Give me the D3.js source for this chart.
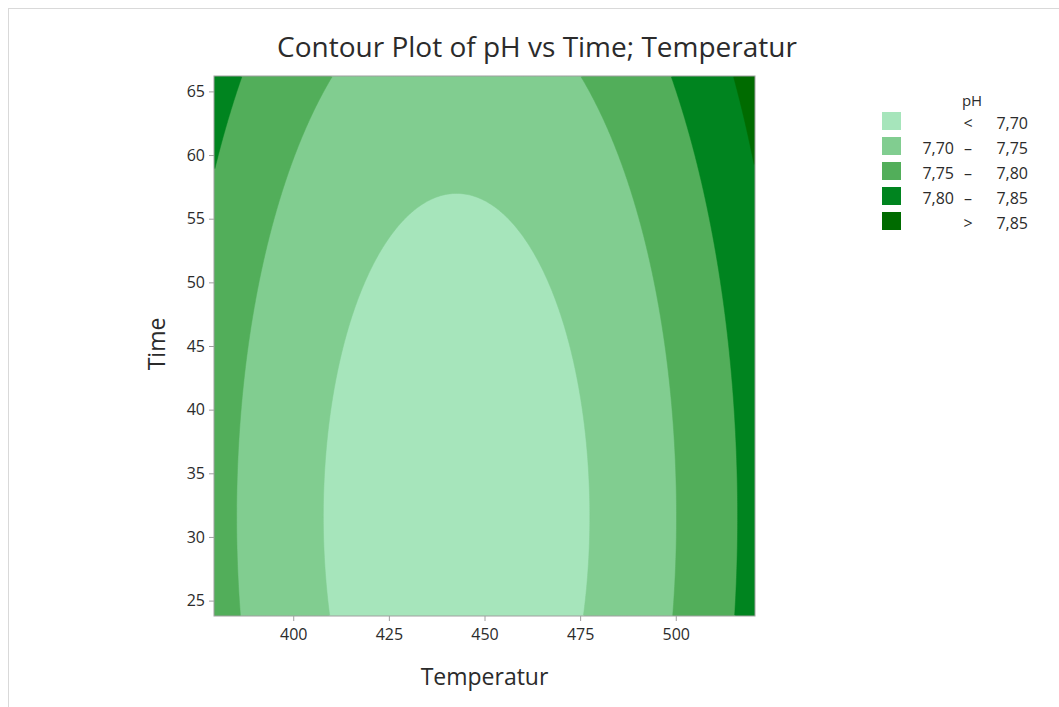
<!DOCTYPE html>
<html>
<head>
<meta charset="utf-8">
<script src="https://cdn.jsdelivr.net/npm/d3@7"></script>
<style>
  body { margin: 0; background: #fff; }
  svg text { font-family: "Open Sans", "Noto Sans", sans-serif; fill: #2b2b2b; }
</style>
</head>
<body>
<div id="chart"></div>
<script>
// fitted response surface (uncoded units)
const terms = ["Constant", "Temperatur", "Time", "Temperatur*Temperatur", "Time*Time", "Temperatur*Time"];
const coefs = [12.399936, -0.02116106, -0.002844, 0.0000239, 0.000045, 0];

const tempRange = [379.29, 520.71];
const timeRange = [23.79, 66.21];
const tempTicks = [400, 425, 450, 475, 500];
const timeTicks = [25, 30, 35, 40, 45, 50, 55, 60, 65];

const levels = [7.70, 7.75, 7.80, 7.85];
const legendLabels = [["", "<", "7,70"], ["7,70", "–", "7,75"], ["7,75", "–", "7,80"], ["7,80", "–", "7,85"], ["", ">", "7,85"]];
const colors = ["#a6e5bb", "#81cd90", "#52ae5a", "#00841f", "#006b00"];

function pH(T, t) {
    return coefs[0] + coefs[1] * T + coefs[2] * t + coefs[3] * T * T + coefs[4] * t * t + coefs[5] * T * t;
}

let width = 1059, height = 707;
let margin = { top: 76, left: 214, right: 304, bottom: 91 };
let plotW = width - margin.left - margin.right,
    plotH = height - margin.top - margin.bottom;

var svg = d3.select("#chart").append("svg")
    .attr("width", width)
    .attr("height", height);

// outer frame of the graph window
svg.append("rect")
    .attr("x", 8.5).attr("y", 8.5)
    .attr("width", width).attr("height", height)
    .attr("fill", "none")
    .attr("stroke", "#d9d9d9");

var x = d3.scaleLinear().domain(tempRange).range([0, plotW]);
var y = d3.scaleLinear().domain(timeRange).range([plotH, 0]);

var g = svg.append("g")
    .attr("transform", "translate(" + margin.left + "," + margin.top + ")");

g.append("clipPath").attr("id", "clip")
    .append("rect").attr("width", plotW).attr("height", plotH);

// grid of values for the contour generator
var nx = 300, ny = 300;
var dT = (tempRange[1] - tempRange[0]) / nx,
    dt = (timeRange[1] - timeRange[0]) / ny;
var values = new Array(nx * ny);
for (var j = 0; j < ny; j++) {
    for (var i = 0; i < nx; i++) {
        values[j * nx + i] = pH(tempRange[0] + (i + 0.5) * dT, timeRange[0] + (j + 0.5) * dt);
    }
}

var contours = d3.contours()
    .size([nx, ny])
    .smooth(true)
    .thresholds([-Infinity].concat(levels))(values);

var projection = d3.geoTransform({
    point: function(px, py) {
        this.stream.point(x(tempRange[0] + px * dT), y(timeRange[0] + py * dt));
    }
});
var path = d3.geoPath(projection);

g.append("g")
    .attr("clip-path", "url(#clip)")
    .selectAll("path")
    .data(contours)
    .enter()
    .append("path")
    .attr("d", (d, k) => k === 0 ? "M0,0H" + plotW + "V" + plotH + "H0Z" : path(d))
    .attr("fill", (d, k) => colors[k])
    .attr("stroke", (d, k) => colors[k])
    .attr("stroke-width", 0.5);

g.append("rect")
    .attr("width", plotW).attr("height", plotH)
    .attr("fill", "none")
    .attr("stroke", "#a0a0a0");

var xAxis = g.append("g")
    .attr("transform", "translate(0," + plotH + ")")
    .call(d3.axisBottom(x).tickValues(tempTicks).tickSize(5).tickPadding(8).tickSizeOuter(0));
var yAxis = g.append("g")
    .call(d3.axisLeft(y).tickValues(timeTicks).tickSize(5).tickPadding(4).tickSizeOuter(0));

[xAxis, yAxis].forEach(a => {
    a.select(".domain").remove();
    a.selectAll(".tick line").attr("stroke", "#a0a0a0");
    a.selectAll(".tick text").style("font-size", "16px").attr("fill", "#2b2b2b");
});

svg.append("text")
    .attr("x", 537).attr("y", 57)
    .attr("text-anchor", "middle")
    .style("font-size", "28px")
    .text("Contour Plot of pH vs Time; Temperatur");

svg.append("text")
    .attr("x", margin.left + plotW / 2).attr("y", 685)
    .attr("text-anchor", "middle")
    .style("font-size", "23px")
    .text("Temperatur");

svg.append("text")
    .attr("transform", "translate(165," + (margin.top + plotH / 2 - 2) + ") rotate(-90)")
    .attr("text-anchor", "middle")
    .style("font-size", "23px")
    .text("Time");

// legend
var legend = svg.append("g").attr("transform", "translate(882,112)");
legend.append("text")
    .attr("x", 90).attr("y", -6)
    .attr("text-anchor", "middle")
    .style("font-size", "15px")
    .text("pH");

var rows = legend.selectAll(".row")
    .data(legendLabels)
    .enter()
    .append("g")
    .attr("transform", (d, k) => "translate(0," + k * 25 + ")");

rows.append("rect")
    .attr("width", 19).attr("height", 18)
    .attr("fill", (d, k) => colors[k]);
rows.append("text")
    .attr("x", 72).attr("y", 17)
    .attr("text-anchor", "end")
    .style("font-size", "16px")
    .text(d => d[0]);
rows.append("text")
    .attr("x", 86).attr("y", 17)
    .attr("text-anchor", "middle")
    .style("font-size", "16px")
    .text(d => d[1]);
rows.append("text")
    .attr("x", 146).attr("y", 17)
    .attr("text-anchor", "end")
    .style("font-size", "16px")
    .text(d => d[2]);
</script>
</body>
</html>
